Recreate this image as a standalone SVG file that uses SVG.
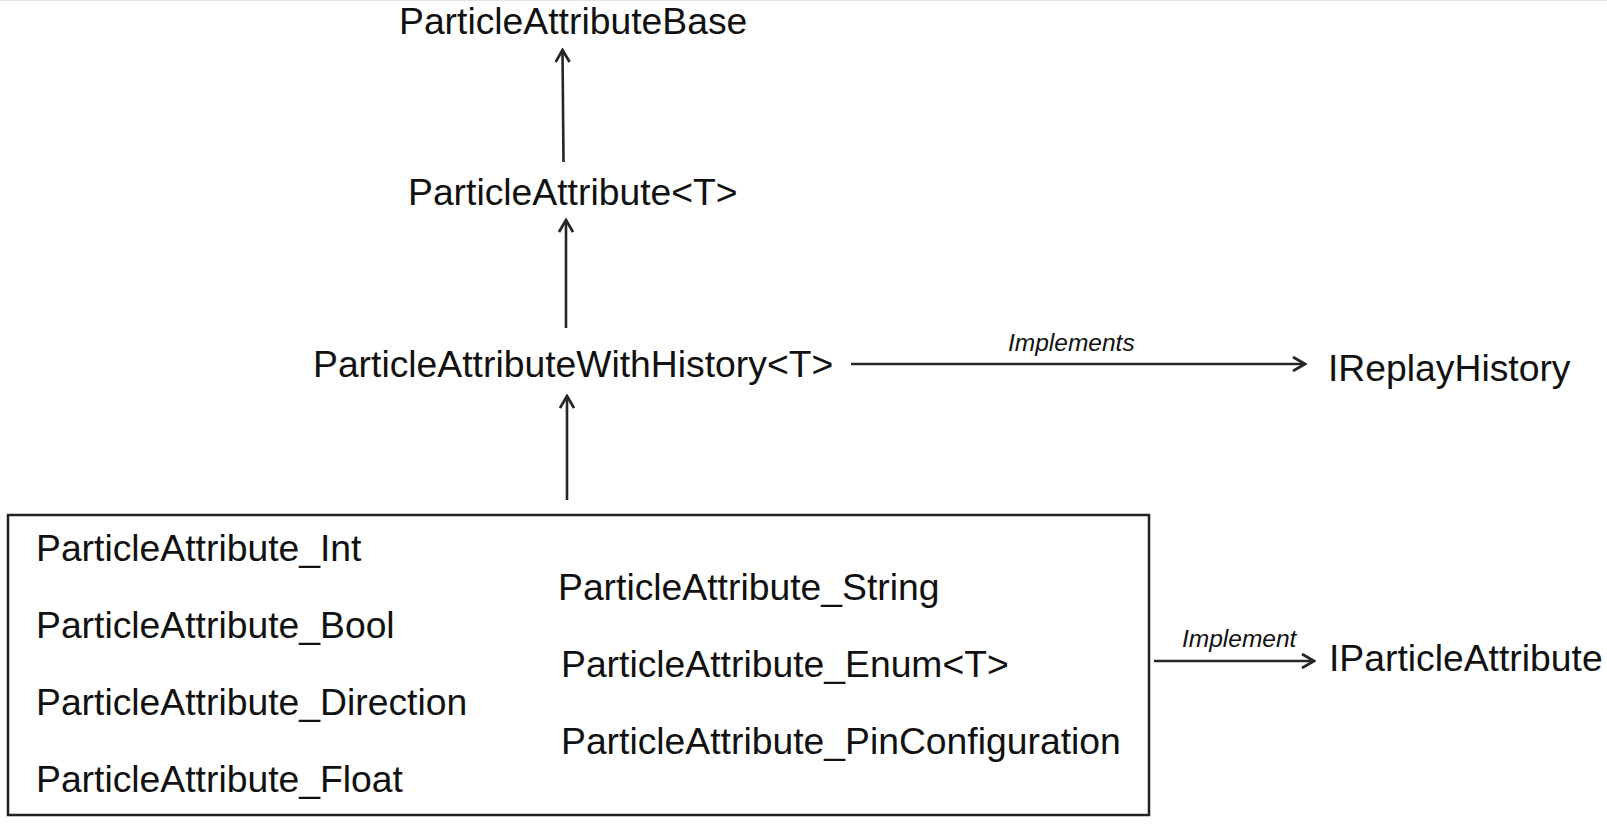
<svg xmlns="http://www.w3.org/2000/svg" width="1607" height="826" viewBox="0 0 1607 826">
  <style>
    .t { font-family: "Liberation Sans", Arial, sans-serif; font-size: 37.3px; fill: #111; }
    .lbl { font-family: "Liberation Sans", Arial, sans-serif; font-size: 24.5px; font-style: italic; fill: #111; }
    .edge { stroke: #262626; stroke-width: 2.6; fill: none; }
    .box { stroke: #222; stroke-width: 2.5; fill: #fff; }
  </style>
  <defs>
    <marker id="arr" viewBox="0 0 16 16" refX="14" refY="8" markerWidth="16" markerHeight="16" markerUnits="userSpaceOnUse" orient="auto">
      <path d="M2,1 L14,8 L2,15" stroke="#262626" stroke-width="2.7" fill="none" stroke-linejoin="miter"/>
    </marker>
  </defs>
  <rect width="1607" height="826" fill="#fff"/>
  <line x1="0" y1="0.5" x2="1607" y2="0.5" stroke="#e4e4e4" stroke-width="1"/>

  <g id="node-base">
    <text class="t" x="399" y="34">ParticleAttributeBase</text>
  </g>
  <g id="node-attr">
    <text class="t" x="408" y="205">ParticleAttribute&lt;T&gt;</text>
  </g>
  <g id="node-history">
    <text class="t" x="313" y="377">ParticleAttributeWithHistory&lt;T&gt;</text>
  </g>
  <g id="node-ireplay">
    <text class="t" x="1328" y="381">IReplayHistory</text>
  </g>
  <g id="node-iparticle">
    <text class="t" x="1329" y="671">IParticleAttribute</text>
  </g>
  <g id="node-group">
    <rect class="box" x="8" y="515" width="1141" height="300"/>
    <text class="t" x="36" y="561">ParticleAttribute_Int</text>
    <text class="t" x="36" y="638">ParticleAttribute_Bool</text>
    <text class="t" x="36" y="715">ParticleAttribute_Direction</text>
    <text class="t" x="36" y="792">ParticleAttribute_Float</text>
    <text class="t" x="558" y="600">ParticleAttribute_String</text>
    <text class="t" x="561" y="677">ParticleAttribute_Enum&lt;T&gt;</text>
    <text class="t" x="561" y="754">ParticleAttribute_PinConfiguration</text>
  </g>

  <g id="connectors">
    <line class="edge" x1="563.5" y1="162" x2="562.5" y2="50" marker-end="url(#arr)"/>
    <line class="edge" x1="566" y1="328" x2="566" y2="220" marker-end="url(#arr)"/>
    <line class="edge" x1="567" y1="500" x2="567" y2="396" marker-end="url(#arr)"/>
    <line class="edge" x1="851" y1="364" x2="1305" y2="364" marker-end="url(#arr)"/>
    <text class="lbl" x="1008" y="351">Implements</text>
    <line class="edge" x1="1154" y1="661" x2="1314" y2="661" marker-end="url(#arr)"/>
    <text class="lbl" x="1182" y="647">Implement</text>
  </g>
</svg>
